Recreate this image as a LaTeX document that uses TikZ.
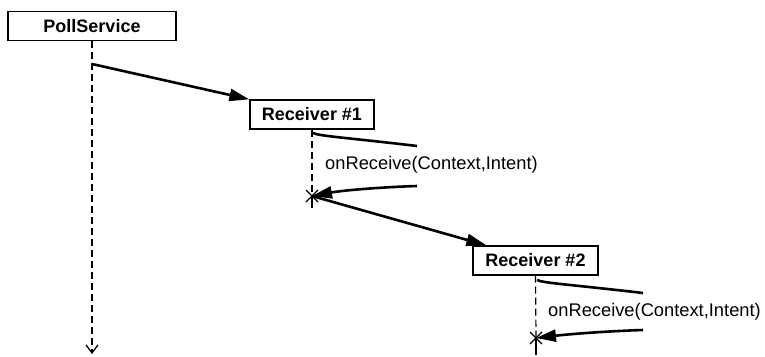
\documentclass[tikz,border=0pt]{standalone}
\usepackage{fontspec}
\setmainfont{Liberation Sans}
\usetikzlibrary{arrows.meta}
\begin{document}
\begin{tikzpicture}[x=1pt,y=-1pt,
  box/.style={draw,line width=1.3pt,font=\fontsize{18}{20}\selectfont\bfseries,inner sep=0pt,minimum height=29pt},
  life/.style={line width=1.2pt,dash pattern=on 7pt off 4pt},
  msg/.style={line width=2.6pt,-{Triangle[length=20pt,width=12pt]}},
  selfout/.style={line width=2.6pt},
  lbl/.style={font=\fontsize{18.3}{20}\selectfont,anchor=west,inner sep=0pt},
  xmark/.style={line width=1.2pt}]
\useasboundingbox (0,0) rectangle (765,356);
% boxes
\node[box,minimum width=168pt] (poll) at (92,26) {PollService};
\node[box,minimum width=124pt] (r1) at (312,114.5) {Receiver \#1};
\node[box,minimum width=125pt] (r2) at (535.5,260.5) {Receiver \#2};
% lifeline coordinates
\coordinate (pend) at (92,354);
\coordinate (m1s) at (92,64);
\coordinate (x1) at (312,196);
\coordinate (x1end) at (312,208);
\coordinate (x2) at (536,338);
\coordinate (x2end) at (536,355);
\coordinate (s1a) at (313,133);
\coordinate (s1b) at (417,146);
\coordinate (s1c) at (417,186);
\coordinate (s2a) at (537,280);
\coordinate (s2b) at (643,293);
\coordinate (s2c) at (643,330);
% lifelines
\draw[life,-{Straight Barb[length=8pt,width=12pt,line width=1.3pt]}] (poll.south) -- (pend);
\draw[life] (r1.south) -- (x1);
\draw[line width=1.2pt] (x1) -- (x1end);
\draw[life] (r2.south) -- (x2);
\draw[line width=1.2pt] (x2) -- (x2end);
% X marks
\draw[xmark] ([shift={(-6,-6)}]x1) -- ([shift={(6,6)}]x1);
\draw[xmark] ([shift={(-6,6)}]x1) -- ([shift={(6,-6)}]x1);
\draw[xmark] ([shift={(-6,-6)}]x2) -- ([shift={(6,6)}]x2);
\draw[xmark] ([shift={(-6,6)}]x2) -- ([shift={(6,-6)}]x2);
% messages
\draw[msg] (m1s) -- (r1.north west);
\draw[msg] (x1) -- ([xshift=14pt]r2.north west);
% self calls
\draw[selfout] (s1a) .. controls (318,136) and (350,138) .. (s1b);
\node[lbl] (l1) at (325,165) {onReceive(Context,Intent)};
\draw[msg] (s1c) .. controls (385,187) and (345,190) .. (x1);
\draw[selfout] (s2a) .. controls (542,283) and (575,285) .. (s2b);
\node[lbl] (l2) at (548,312) {onReceive(Context,Intent)};
\draw[msg] (s2c) .. controls (610,331) and (570,334) .. (x2);
\end{tikzpicture}
\end{document}
